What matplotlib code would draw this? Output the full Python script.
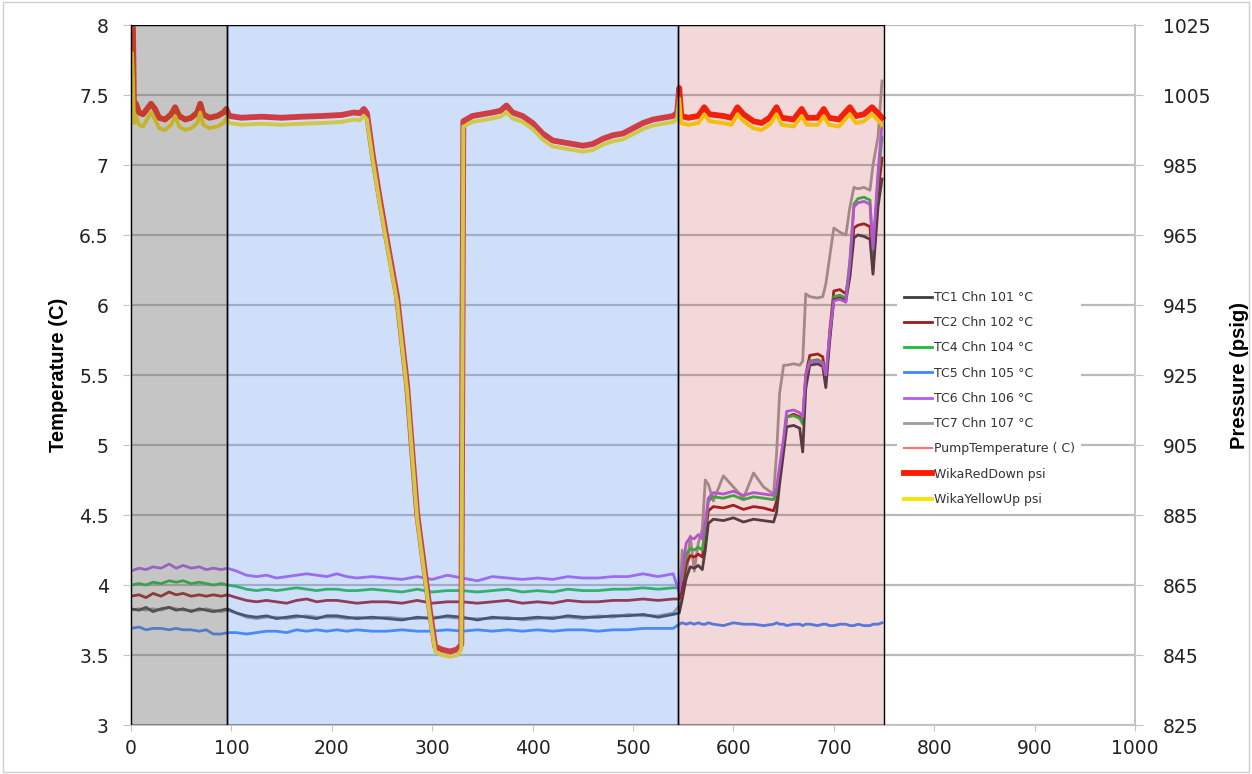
import matplotlib
matplotlib.use("Agg")
import matplotlib.pyplot as plt
from matplotlib.lines import Line2D
from matplotlib.patches import Rectangle
from matplotlib.ticker import FuncFormatter

# ---- temperature channels (deg C), shared time axis ----
t_tc = [0, 8, 15, 22, 30, 38, 45, 52, 60, 68, 75, 82, 90, 96, 105, 115, 125, 135, 145, 155,
        165, 175, 185, 195, 205, 215, 225, 240, 255, 270, 285, 300, 315, 330, 345, 360, 375, 390,
        405, 420, 435, 450, 465, 480, 495, 510, 525, 540,
        546, 549, 553, 557, 561, 565, 569, 572, 575, 580, 590, 600, 610, 620, 630, 640, 643, 646,
        650, 653, 660, 666, 669, 672, 676, 684, 689, 692, 696, 700, 706, 712, 716, 720, 724, 730,
        736, 739, 744, 748]

tc6 = [4.10, 4.12, 4.11, 4.13, 4.12, 4.15, 4.12, 4.14, 4.12, 4.13, 4.11, 4.12, 4.11, 4.12, 4.10, 4.07,
       4.06, 4.07, 4.05, 4.06, 4.07, 4.08, 4.07, 4.06, 4.08, 4.06, 4.05, 4.06, 4.05, 4.04, 4.06, 4.04,
       4.07, 4.05, 4.03, 4.06, 4.05, 4.04, 4.05, 4.04, 4.06, 4.05, 4.05, 4.06, 4.06, 4.08, 4.06, 4.08,
       3.95, 4.10, 4.30, 4.34, 4.33, 4.36, 4.33, 4.45, 4.62, 4.66, 4.65, 4.67, 4.64, 4.66, 4.65, 4.64,
       4.70, 4.85, 5.05, 5.24, 5.25, 5.23, 5.20, 5.50, 5.59, 5.60, 5.58, 5.50, 5.80, 6.03, 6.04, 6.02,
       6.30, 6.70, 6.73, 6.74, 6.72, 6.40, 6.95, 7.30]
tc4 = [4.00, 4.01, 4.00, 4.02, 4.01, 4.03, 4.02, 4.03, 4.01, 4.02, 4.01, 4.00, 4.01, 4.00, 3.99, 3.97,
       3.96, 3.97, 3.96, 3.97, 3.98, 3.97, 3.96, 3.97, 3.97, 3.96, 3.96, 3.97, 3.96, 3.95, 3.97, 3.95,
       3.96, 3.96, 3.95, 3.96, 3.97, 3.95, 3.96, 3.95, 3.97, 3.96, 3.96, 3.97, 3.97, 3.98, 3.97, 3.98,
       3.98, 4.05, 4.22, 4.26, 4.25, 4.27, 4.25, 4.40, 4.60, 4.63, 4.62, 4.64, 4.61, 4.63, 4.62, 4.61,
       4.66, 4.82, 5.02, 5.20, 5.21, 5.19, 5.15, 5.48, 5.60, 5.61, 5.59, 5.45, 5.78, 6.06, 6.07, 6.05,
       6.32, 6.72, 6.76, 6.77, 6.75, 6.35, 6.90, 7.20]
tc2 = [3.92, 3.93, 3.91, 3.94, 3.92, 3.95, 3.93, 3.94, 3.92, 3.93, 3.92, 3.93, 3.92, 3.93, 3.91, 3.89,
       3.88, 3.89, 3.88, 3.87, 3.89, 3.90, 3.88, 3.89, 3.89, 3.88, 3.87, 3.88, 3.88, 3.87, 3.89, 3.87,
       3.88, 3.88, 3.87, 3.88, 3.89, 3.87, 3.88, 3.87, 3.89, 3.88, 3.88, 3.89, 3.89, 3.90, 3.89, 3.90,
       3.90, 3.98, 4.15, 4.21, 4.20, 4.22, 4.20, 4.35, 4.53, 4.56, 4.55, 4.57, 4.54, 4.56, 4.55, 4.53,
       4.60, 4.78, 5.00, 5.20, 5.22, 5.20, 5.16, 5.50, 5.64, 5.65, 5.63, 5.45, 5.82, 6.10, 6.11, 6.08,
       6.25, 6.55, 6.57, 6.58, 6.56, 6.25, 6.80, 7.05]
tc1 = [3.83, 3.82, 3.84, 3.81, 3.83, 3.84, 3.82, 3.83, 3.81, 3.83, 3.82, 3.81, 3.82, 3.83, 3.80, 3.78,
       3.77, 3.78, 3.76, 3.77, 3.78, 3.77, 3.76, 3.78, 3.78, 3.77, 3.76, 3.77, 3.76, 3.75, 3.77, 3.76,
       3.78, 3.77, 3.75, 3.77, 3.76, 3.76, 3.77, 3.76, 3.78, 3.77, 3.77, 3.78, 3.78, 3.79, 3.77, 3.79,
       3.80, 3.90, 4.05, 4.13, 4.12, 4.14, 4.11, 4.25, 4.44, 4.47, 4.46, 4.48, 4.45, 4.47, 4.46, 4.45,
       4.52, 4.72, 4.95, 5.13, 5.14, 5.12, 4.95, 5.40, 5.57, 5.58, 5.56, 5.41, 5.75, 6.04, 6.05, 6.03,
       6.20, 6.48, 6.50, 6.49, 6.47, 6.22, 6.70, 6.90]
tc7 = [3.82, 3.83, 3.82, 3.83, 3.82, 3.84, 3.83, 3.82, 3.82, 3.82, 3.83, 3.82, 3.81, 3.82, 3.80, 3.77,
       3.76, 3.77, 3.77, 3.76, 3.77, 3.78, 3.77, 3.77, 3.77, 3.76, 3.77, 3.76, 3.77, 3.76, 3.76, 3.77,
       3.77, 3.76, 3.76, 3.76, 3.77, 3.75, 3.76, 3.77, 3.77, 3.76, 3.78, 3.77, 3.79, 3.78, 3.78, 3.80,
       3.85, 4.25, 4.05, 4.35, 4.10, 4.30, 4.40, 4.75, 4.72, 4.60, 4.78, 4.70, 4.62, 4.80, 4.70, 4.65,
       4.94, 5.37, 5.57, 5.57, 5.58, 5.57, 5.60, 6.08, 6.06, 6.05, 6.06, 6.15, 6.35, 6.55, 6.52, 6.50,
       6.70, 6.84, 6.83, 6.84, 6.82, 7.00, 7.20, 7.60]
tc5 = [3.69, 3.70, 3.68, 3.69, 3.69, 3.68, 3.69, 3.68, 3.68, 3.67, 3.68, 3.65, 3.65, 3.66, 3.66, 3.65,
       3.66, 3.67, 3.67, 3.66, 3.68, 3.67, 3.68, 3.67, 3.68, 3.67, 3.68, 3.67, 3.67, 3.68, 3.67, 3.67,
       3.68, 3.67, 3.68, 3.67, 3.68, 3.67, 3.68, 3.67, 3.68, 3.68, 3.67, 3.68, 3.68, 3.69, 3.69, 3.69,
       3.72, 3.73, 3.72, 3.73, 3.72, 3.73, 3.72, 3.72, 3.73, 3.72, 3.71, 3.73, 3.72, 3.72, 3.71, 3.72,
       3.73, 3.72, 3.72, 3.71, 3.72, 3.72, 3.71, 3.72, 3.72, 3.71, 3.72, 3.72, 3.71, 3.71, 3.72, 3.72,
       3.71, 3.71, 3.72, 3.71, 3.71, 3.72, 3.72, 3.73]

# ---- pressure transducers (psig) ----
t_p = [0, 1, 2, 3, 5, 8, 12, 16, 20, 24, 28, 34, 40, 44, 48, 54, 60, 66, 69, 72, 78, 86, 92, 95, 98,
       110, 130, 150, 170, 190, 210, 222, 228, 232, 235,
       241, 248, 255, 265, 275, 285, 298, 303, 310, 318, 325, 329,
       331, 340, 350, 360, 368, 374, 380, 390, 400, 410, 420, 430, 440, 450, 460, 470, 480, 490, 500,
       510, 520, 530, 540, 544,
       546, 548, 555, 565, 571, 576, 590, 598, 604, 610, 620, 628, 636, 643, 648, 660, 668, 673, 684,
       690, 695, 705, 716, 722, 730, 738, 745, 748]
red_psi = [1000, 1025, 1024, 1001, 1002.5, 1000, 999.5, 1001, 1002.5, 1001, 998.5, 998, 999.5, 1001.5,
           999, 998, 998.5, 1000, 1002.5, 999.5, 998.5, 999, 1000, 1001, 999,
           998.5, 998.8, 998.5, 998.8, 999, 999.3, 1000, 999.8, 1001, 999.8,
           987.4, 975, 963.4, 947.4, 922, 885.4, 857, 847.4, 846.5, 846, 846.6, 848,
           997.5, 999, 999.5, 1000, 1000.5, 1002, 1000, 999, 997, 994, 992, 991.5, 991, 990.5, 991,
           992.5, 993.5, 994, 995.5, 997, 998, 998.5, 999, 1000,
           1007, 999, 998.5, 999, 1001.5, 999.5, 999, 998.5, 1001.5, 999.5, 997.5, 997, 998.5, 1001.5,
           998.5, 998, 1001, 998.5, 998.5, 1001, 998.5, 998, 1001.5, 999, 999.5, 1001.5, 999.5, 998.5]
yellow_psi = [997, 1017, 1010, 997, 999, 996.5, 996, 998, 1000, 998, 995.5, 995, 996.5, 999, 996, 995,
              995.5, 997, 1000, 996.5, 995.5, 996, 997, 998.5, 997,
              996.5, 996.8, 996.5, 996.8, 997, 997.3, 998, 997.8, 999, 998,
              986, 973.5, 962, 946, 920.5, 884, 855.5, 846, 845, 844.5, 845, 846.5,
              996, 997.3, 997.8, 998.3, 998.8, 1000, 998.3, 997.3, 995.3, 992.3, 990.3, 989.8, 989.3,
              988.8, 989.3, 990.8, 991.8, 992.3, 993.8, 995.3, 996.3, 996.8, 997.3, 998.3,
              1004, 997, 996.5, 997, 999.5, 997.5, 997, 996.5, 999.5, 997.5, 995.5, 995, 996.5, 999.5,
              996.5, 996, 999, 996.5, 996.5, 999, 996.5, 996, 999.5, 997, 997.5, 999.5, 997.5, 996.5]

# test phases (start, end, colour, alpha)
phases = [(0, 96, "#707070", 0.40), (96, 545, "#6294ee", 0.30), (545, 750, "#be3c3c", 0.20)]

plt.rcParams["font.family"] = ["DejaVu Sans"]

fig = plt.figure(figsize=(12.52, 7.74), dpi=100)
ax1 = fig.add_axes([0.1046, 0.0633, 0.802, 0.9044])
ax2 = ax1.twinx()

lw_tc = 2.0
l1, = ax1.plot(t_tc, tc1, color="#3c3c44", lw=lw_tc, label="TC1 Chn 101 °C", zorder=5)
l7, = ax1.plot(t_tc, tc7, color="#a09a98", lw=lw_tc, label="TC7 Chn 107 °C", zorder=4)
l2, = ax1.plot(t_tc, tc2, color="#a01818", lw=lw_tc, label="TC2 Chn 102 °C", zorder=4)
l4, = ax1.plot(t_tc, tc4, color="#1ebd3c", lw=lw_tc, label="TC4 Chn 104 °C", zorder=4)
l5, = ax1.plot(t_tc, tc5, color="#3f86ff", lw=lw_tc, label="TC5 Chn 105 °C", zorder=4)
l6, = ax1.plot(t_tc, tc6, color="#b25cf2", lw=lw_tc, label="TC6 Chn 106 °C", zorder=6)
pump = Line2D([], [], color="#ff7070", lw=1.5, label="PumpTemperature ( C)")

lr, = ax2.plot(t_p, red_psi, color="#ff1a00", lw=4.2, label="WikaRedDown psi", zorder=2)
ly, = ax2.plot(t_p, yellow_psi, color="#ffe000", lw=2.8, label="WikaYellowUp psi", zorder=3)

for x0, x1, c, a in phases:
    ax2.add_patch(Rectangle((x0, 825), x1 - x0, 200, facecolor=c, alpha=a, edgecolor="none", zorder=8))
    ax2.add_patch(Rectangle((x0, 825), x1 - x0, 200, facecolor="none", edgecolor="black", lw=1.0, zorder=9))

ax1.set_xlim(0, 1000)
ax1.set_ylim(3, 8)
ax2.set_ylim(825, 1025)
ax1.set_xticks(range(0, 1001, 100))
ax1.set_yticks([3 + 0.5 * i for i in range(11)])
ax2.set_yticks(range(825, 1026, 20))
ax1.yaxis.set_major_formatter(FuncFormatter(lambda v, p: "%g" % v))

ax1.grid(axis="y", color="#b9b9b9", lw=1.6)
ax1.set_axisbelow(True)

for ax in (ax1, ax2):
    ax.spines["top"].set_visible(False)
    for s in ("left", "right", "bottom"):
        ax.spines[s].set_color("#c4c4c4")
        ax.spines[s].set_linewidth(1.4)

ax1.tick_params(axis="y", length=6, color="#c4c4c4", labelsize=13.5, pad=10, labelcolor="#222222")
ax1.tick_params(axis="x", length=4, color="#c4c4c4", labelsize=13.5, pad=6, labelcolor="#222222")
ax2.tick_params(axis="y", direction="inout", length=12, color="#c4c4c4", labelsize=13.5, pad=14,
                labelcolor="#222222")

lab_font = dict(family=["Liberation Sans Narrow", "Liberation Sans"], weight="bold", size=14.5)
ax1.set_ylabel("Temperature (C)", fontdict=lab_font, labelpad=8)
ax2.set_ylabel("Pressure (psig)", fontdict=lab_font, labelpad=14)

handles = [l1, l2, l4, l5, l6, l7, pump, lr, ly]
leg = ax2.legend(handles=handles, loc="upper left", bbox_to_anchor=(0.757, 0.638),
                 fontsize=9, frameon=True, facecolor="white", edgecolor="none", framealpha=1,
                 handlelength=2.3, labelspacing=0.98, handletextpad=0.1, borderpad=0.5)
leg.set_zorder(20)
for txt in leg.get_texts():
    txt.set_color("#333333")

fig.add_artist(Rectangle((0.002, 0.003), 0.996, 0.994, transform=fig.transFigure,
                         facecolor="none", edgecolor="#cfcfcf", lw=1.0))

fig.savefig("out.png", dpi=100)
